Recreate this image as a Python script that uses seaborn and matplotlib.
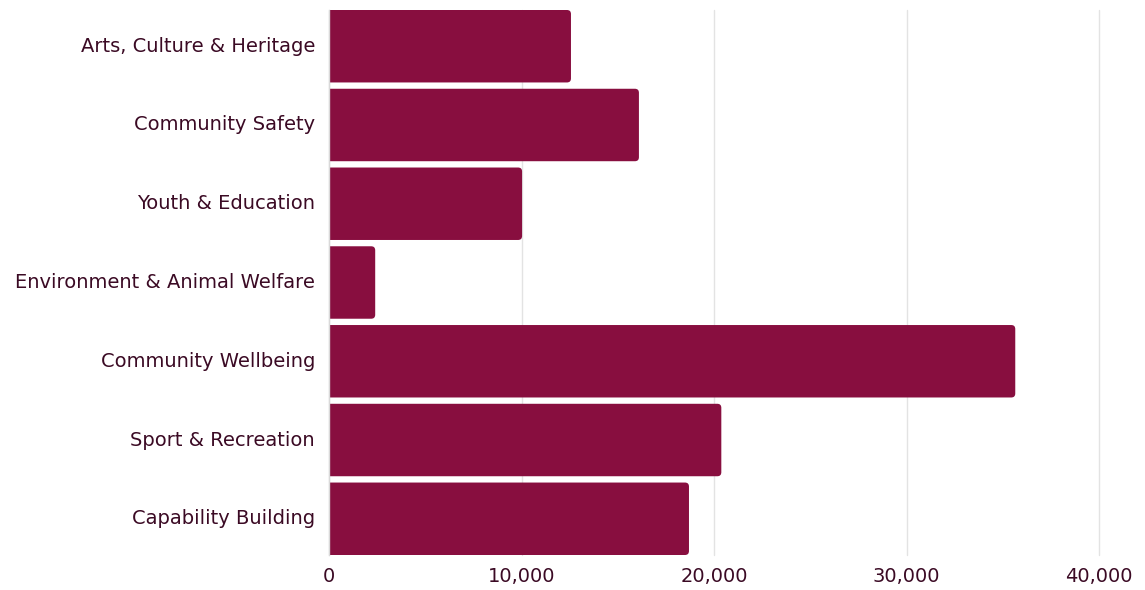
import numpy as np
import pandas as pd
import seaborn as sns
import matplotlib.pyplot as plt
from matplotlib.patches import FancyBboxPatch

# data
categories = ['Arts, Culture & Heritage', 'Community Safety', 'Youth & Education',
              'Environment & Animal Welfare', 'Community Wellbeing',
              'Sport & Recreation', 'Capability Building']
values = [12570, 16100, 10030, 2400, 35650, 20380, 18700]

df = pd.DataFrame({'category': categories, 'value': values})

bar_color = '#880E3F'
text_color = '#3B0A24'

sns.set_style('white')
plt.rcParams['font.family'] = ['DejaVu Sans']

fig = plt.figure(figsize=(11.45, 5.9), dpi=100)
ax = fig.add_axes([329 / 1145, 1 - 555 / 590, (1099 - 329) / 1145, 545 / 590])

w = 0.92
sns.barplot(data=df, x='value', y='category', color=bar_color, width=w,
            saturation=1, ax=ax, zorder=2)

ax.set_xlim(0, 40000)
ax.set_ylim(6 + w / 2, -w / 2)

# swap the plain bars for ones with rounded right corners
x_per_px = 40000 / 770
y_per_px = (6 + w) / 545
r = 4 * x_per_px
for p in list(ax.patches):
    x0, y0 = p.get_x(), p.get_y()
    bw, bh = p.get_width(), p.get_height()
    p.set_visible(False)
    box = FancyBboxPatch((x0 - 2 * r, y0), bw + 2 * r, bh,
                         boxstyle=f'round,pad=0,rounding_size={r}',
                         mutation_aspect=y_per_px / x_per_px,
                         facecolor=bar_color, edgecolor='none', zorder=2)
    ax.add_patch(box)

ax.set_xticks([0, 10000, 20000, 30000, 40000])
ax.set_xticklabels(['0', '10,000', '20,000', '30,000', '40,000'])
ax.xaxis.grid(True, color='#E3E3E3', linewidth=1, zorder=0)
ax.set_axisbelow(True)
for gl in ax.get_xgridlines():
    gl.set_clip_on(False)

for s in ['top', 'right', 'bottom']:
    ax.spines[s].set_visible(False)
ax.spines['left'].set_color('#D9D9D9')
ax.spines['left'].set_linewidth(1)

ax.tick_params(axis='both', length=0, labelsize=14, labelcolor=text_color)
ax.tick_params(axis='y', pad=10)
ax.tick_params(axis='x', pad=9)
for t in ax.get_yticklabels():
    t.set_verticalalignment('center')
ax.set_xlabel('')
ax.set_ylabel('')

fig.savefig('out.png', dpi=100)
